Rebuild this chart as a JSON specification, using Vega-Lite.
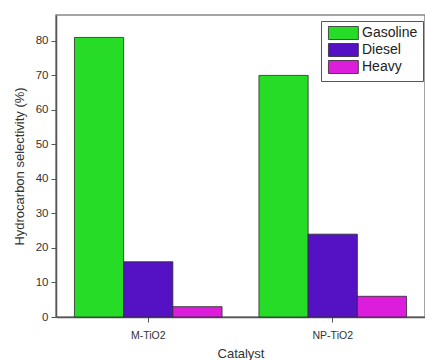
{
  "$schema": "https://vega.github.io/schema/vega-lite/v6.json",
  "autosize": {"type": "none"},
  "padding": {"left": 56, "top": 15, "right": 0, "bottom": 43},
  "width": 369,
  "height": 302,
  "background": "white",
  "config": {
    "font": "Liberation Sans",
    "view": {"stroke": "#888888", "strokeWidth": 1.5}
  },
  "data": {
    "values": [
      {"catalyst": "M-TiO2", "type": "Gasoline", "value": 81},
      {"catalyst": "M-TiO2", "type": "Diesel", "value": 16},
      {"catalyst": "M-TiO2", "type": "Heavy", "value": 3},
      {"catalyst": "NP-TiO2", "type": "Gasoline", "value": 70},
      {"catalyst": "NP-TiO2", "type": "Diesel", "value": 24},
      {"catalyst": "NP-TiO2", "type": "Heavy", "value": 6}
    ]
  },
  "mark": {"type": "bar", "stroke": "#2a2a2a", "strokeWidth": 0.8},
  "encoding": {
    "x": {
      "field": "catalyst",
      "type": "nominal",
      "sort": ["M-TiO2", "NP-TiO2"],
      "scale": {"paddingInner": 0.2, "paddingOuter": 0.1},
      "axis": {
        "title": "Catalyst",
        "titleFontSize": 13,
        "titleFontWeight": "normal",
        "titleColor": "#333333",
        "titlePadding": 7,
        "labelAngle": 0,
        "labelFontSize": 10.5,
        "labelColor": "#333333",
        "labelPadding": 8,
        "domainColor": "#555555",
        "domainWidth": 1.5,
        "tickColor": "#555555",
        "tickSize": 5
      }
    },
    "xOffset": {"field": "type", "type": "nominal", "sort": ["Gasoline", "Diesel", "Heavy"], "scale": {"paddingInner": 0, "paddingOuter": 0}},
    "y": {
      "field": "value",
      "type": "quantitative",
      "scale": {"domain": [0, 87.5], "nice": false},
      "axis": {
        "title": "Hydrocarbon selectivity (%)",
        "titleFontSize": 13,
        "titleFontWeight": "normal",
        "titleColor": "#333333",
        "titlePadding": 9,
        "values": [0, 10, 20, 30, 40, 50, 60, 70, 80],
        "labelFontSize": 11.5,
        "labelColor": "#333333",
        "labelPadding": 3,
        "grid": false,
        "domainColor": "#555555",
        "domainWidth": 1.5,
        "tickColor": "#555555",
        "tickSize": 5
      }
    },
    "color": {
      "field": "type",
      "type": "nominal",
      "sort": ["Gasoline", "Diesel", "Heavy"],
      "scale": {"domain": ["Gasoline", "Diesel", "Heavy"], "range": ["#27dc27", "#5512c4", "#dc1edc"]},
      "legend": {
        "title": null,
        "orient": "none",
        "legendX": 265,
        "legendY": 6,
        "symbolType": "M-0.7,-1H3.9V1H-0.7Z",
        "symbolSize": 169,
        "symbolStrokeColor": "#2a2a2a",
        "symbolStrokeWidth": 0.8,
        "labelFontSize": 14,
        "labelColor": "#222222",
        "labelOffset": 22,
        "rowPadding": -1,
        "padding": 5,
        "strokeColor": "#555555",
        "fillColor": "white"
      }
    }
  }
}
